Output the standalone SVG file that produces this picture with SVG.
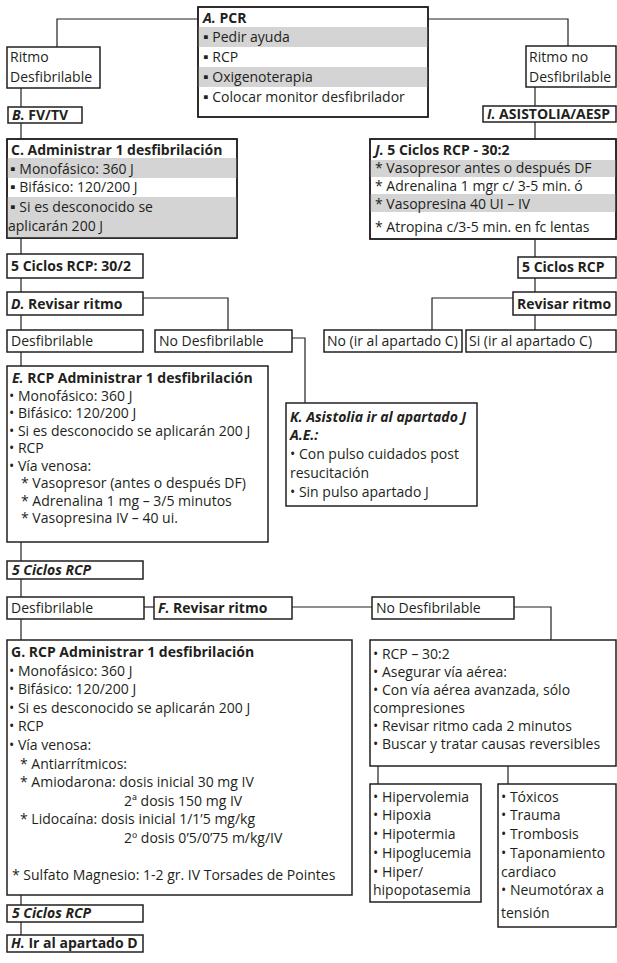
<svg xmlns="http://www.w3.org/2000/svg" width="617" height="963" viewBox="0 0 617 963">
  <style>
    .bg { fill: #ffffff; }
    .box { fill: #ffffff; stroke: #231f20; stroke-width: 1.5; }
    .frame { fill: none; stroke: #231f20; stroke-width: 1.5; }
    .band { fill: #d4d4d4; }
    .wire { fill: none; stroke: #231f20; stroke-width: 1.2; }
    text { font-family: "Open Sans", Lato, "Liberation Sans", sans-serif; font-size: 14px; fill: #231f20; }
    .b { font-weight: bold; }
    .i { font-style: italic; }
  </style>

  <rect class="bg" x="0" y="0" width="617" height="963"/>

  <!-- connectors -->
  <g id="connectors">
    <path class="wire" d="M198,19 H57 V47"/>
    <path class="wire" d="M428,19 H568 V46"/>
    <path class="wire" d="M21,88 V107"/>
    <path class="wire" d="M21,123 V139"/>
    <path class="wire" d="M21,238 V254"/>
    <path class="wire" d="M21,278 V292"/>
    <path class="wire" d="M143,298 H228 V330"/>
    <path class="wire" d="M21,315 V330"/>
    <path class="wire" d="M21,352 V366"/>
    <path class="wire" d="M292,338 H305 V403"/>
    <path class="wire" d="M535,87 V106"/>
    <path class="wire" d="M535,122 V139"/>
    <path class="wire" d="M535,239 V257"/>
    <path class="wire" d="M535,278 V292"/>
    <path class="wire" d="M513,298 H432 V330"/>
    <path class="wire" d="M535,315 V330"/>
    <path class="wire" d="M21,542 V561"/>
    <path class="wire" d="M21,579 V597"/>
    <path class="wire" d="M144,607 H154"/>
    <path class="wire" d="M292,607 H372"/>
    <path class="wire" d="M514,607 H551 V640"/>
    <path class="wire" d="M21,619 V640"/>
    <path class="wire" d="M378,766 V784"/>
    <path class="wire" d="M508,766 V784"/>
    <path class="wire" d="M21,895 V905"/>
    <path class="wire" d="M21,922 V935"/>
  </g>

  <!-- A. PCR -->
  <g id="node-a">
    <rect class="box" x="198" y="7" width="230" height="110"/>
    <rect class="band" x="198" y="27" width="230" height="20"/>
    <rect class="band" x="198" y="67" width="230" height="20"/>
    <rect class="frame" x="198" y="7" width="230" height="110"/>
    <text class="b" x="203" y="23"><tspan class="i">A.</tspan> PCR</text>
    <text x="203" y="42">▪ Pedir ayuda</text>
    <text x="203" y="62">▪ RCP</text>
    <text x="203" y="82">▪ Oxigenoterapia</text>
    <text x="203" y="102">▪ Colocar monitor desfibrilador</text>
  </g>

  <g id="node-ritmo-desf">
    <rect class="box" x="7" y="47" width="93" height="41"/>
    <text x="10" y="62">Ritmo</text>
    <text x="10" y="82">Desfibrilable</text>
  </g>

  <g id="node-ritmo-no-desf">
    <rect class="box" x="526" y="46" width="90" height="41"/>
    <text x="529" y="62">Ritmo no</text>
    <text x="529" y="82">Desfibrilable</text>
  </g>

  <g id="node-b">
    <rect class="box" x="8" y="107" width="74" height="16"/>
    <text class="b" x="12" y="120"><tspan class="i">B.</tspan> FV/TV</text>
  </g>

  <g id="node-i">
    <rect class="box" x="483" y="106" width="133" height="16"/>
    <text class="b" x="487" y="119"><tspan class="i">I.</tspan> ASISTOLIA/AESP</text>
  </g>

  <g id="node-c">
    <rect class="box" x="7" y="139" width="230" height="99"/>
    <rect class="band" x="7" y="158" width="230" height="20"/>
    <rect class="band" x="7" y="197" width="230" height="41"/>
    <rect class="frame" x="7" y="139" width="230" height="99"/>
    <text class="b" x="11" y="154.5">C. Administrar 1 desfibrilación</text>
    <text x="10" y="173.5">▪ Monofásico: 360 J</text>
    <text x="10" y="192">▪ Bifásico: 120/200 J</text>
    <text x="10" y="212">▪ Si es desconocido se</text>
    <text x="8" y="230.5">aplicarán 200 J</text>
  </g>

  <g id="node-j">
    <rect class="box" x="370" y="139" width="246" height="100"/>
    <rect class="band" x="370" y="160" width="246" height="17"/>
    <rect class="band" x="370" y="194" width="246" height="18"/>
    <rect class="frame" x="370" y="139" width="246" height="100"/>
    <text class="b" x="375" y="154.5"><tspan class="i">J.</tspan> 5 Ciclos RCP - 30:2</text>
    <text x="375" y="172.5">* Vasopresor antes o después DF</text>
    <text x="375" y="190.5">* Adrenalina 1 mgr c/ 3-5 min.  ó</text>
    <text x="375" y="208.5">* Vasopresina 40 UI – IV</text>
    <text x="375" y="232">* Atropina c/3-5 min. en fc lentas</text>
  </g>

  <g id="node-ciclos-1">
    <rect class="box" x="7" y="254" width="136" height="24"/>
    <text class="b" x="11" y="271">5 Ciclos RCP: 30/2</text>
  </g>

  <g id="node-ciclos-right">
    <rect class="box" x="518" y="257" width="98" height="21"/>
    <text class="b" x="522" y="272">5 Ciclos RCP</text>
  </g>

  <g id="node-d">
    <rect class="box" x="7" y="292" width="136" height="23"/>
    <text class="b" x="11" y="309"><tspan class="i">D.</tspan> Revisar ritmo</text>
  </g>

  <g id="node-revisar-right">
    <rect class="box" x="513" y="292" width="103" height="23"/>
    <text class="b" x="517" y="309">Revisar ritmo</text>
  </g>

  <g id="node-desf-1">
    <rect class="box" x="7" y="330" width="136" height="22"/>
    <text x="11" y="346">Desfibrilable</text>
  </g>

  <g id="node-no-desf-1">
    <rect class="box" x="155" y="330" width="137" height="22"/>
    <text x="159" y="346">No Desfibrilable</text>
  </g>

  <g id="node-no-ir-c">
    <rect class="box" x="324" y="330" width="138" height="22"/>
    <text x="327" y="346">No (ir al apartado C)</text>
  </g>

  <g id="node-si-ir-c">
    <rect class="box" x="466" y="330" width="150" height="22"/>
    <text x="469" y="346">Si (ir al apartado C)</text>
  </g>

  <g id="node-e">
    <rect class="box" x="7" y="366" width="261" height="176"/>
    <text class="b" x="12" y="383"><tspan class="i">E.</tspan> RCP Administrar 1 desfibrilación</text>
    <text x="9" y="400.5">• Monofásico: 360 J</text>
    <text x="9" y="418">• Bifásico: 120/200 J</text>
    <text x="9" y="435.5">• Si es desconocido se aplicarán 200 J</text>
    <text x="9" y="453">• RCP</text>
    <text x="9" y="470.5">• Vía venosa:</text>
    <text x="21" y="488">* Vasopresor (antes o después DF)</text>
    <text x="21" y="505.5">* Adrenalina 1 mg – 3/5 minutos</text>
    <text x="21" y="523">* Vasopresina IV – 40 ui.</text>
  </g>

  <g id="node-k">
    <rect class="box" x="286" y="403" width="191" height="103"/>
    <text class="b i" x="290" y="422">K. Asistolia ir al apartado J</text>
    <text class="b i" x="290" y="440">A.E.:</text>
    <text x="290" y="459">• Con pulso cuidados post</text>
    <text x="290" y="478">resucitación</text>
    <text x="290" y="497">• Sin pulso apartado J</text>
  </g>

  <g id="node-ciclos-2">
    <rect class="box" x="7" y="561" width="136" height="18"/>
    <text class="b i" x="12" y="575">5 Ciclos RCP</text>
  </g>

  <g id="node-desf-2">
    <rect class="box" x="7" y="597" width="137" height="22"/>
    <text x="11" y="613">Desfibrilable</text>
  </g>

  <g id="node-f">
    <rect class="box" x="154" y="597" width="138" height="22"/>
    <text class="b" x="158" y="613"><tspan class="i">F.</tspan> Revisar ritmo</text>
  </g>

  <g id="node-no-desf-2">
    <rect class="box" x="372" y="597" width="142" height="22"/>
    <text x="376" y="613">No Desfibrilable</text>
  </g>

  <g id="node-g">
    <rect class="box" x="7" y="640" width="345" height="255"/>
    <text class="b" x="11" y="657">G. RCP Administrar 1 desfibrilación</text>
    <text x="9" y="675.6">• Monofásico: 360 J</text>
    <text x="9" y="694.2">• Bifásico: 120/200 J</text>
    <text x="9" y="712.8">• Si es desconocido se aplicarán 200 J</text>
    <text x="9" y="731.4">• RCP</text>
    <text x="9" y="750">• Vía venosa:</text>
    <text x="20" y="768.6">* Antiarrítmicos:</text>
    <text x="20" y="787.2">* Amiodarona: dosis inicial 30 mg IV</text>
    <text x="124" y="805.8">2ª dosis 150 mg IV</text>
    <text x="20" y="824.4">* Lidocaína: dosis inicial 1/1’5 mg/kg</text>
    <text x="124" y="843">2º dosis 0’5/0’75 m/kg/IV</text>
    <text x="12" y="880">* Sulfato Magnesio: 1-2 gr. IV Torsades de Pointes</text>
  </g>

  <g id="node-rcp-no-desf">
    <rect class="box" x="370" y="640" width="246" height="126"/>
    <text x="373" y="659">• RCP – 30:2</text>
    <text x="373" y="677">• Asegurar vía aérea:</text>
    <text x="373" y="695">• Con vía aérea avanzada, sólo</text>
    <text x="373" y="713">compresiones</text>
    <text x="373" y="731">• Revisar ritmo cada 2 minutos</text>
    <text x="373" y="749">• Buscar y tratar causas reversibles</text>
  </g>

  <g id="node-hipo">
    <rect class="box" x="370" y="784" width="111" height="118"/>
    <text x="373" y="802">• Hipervolemia</text>
    <text x="373" y="820">• Hipoxia</text>
    <text x="373" y="839">• Hipotermia</text>
    <text x="373" y="858">• Hipoglucemia</text>
    <text x="373" y="877">• Hiper/</text>
    <text x="373" y="895">hipopotasemia</text>
  </g>

  <g id="node-toxicos">
    <rect class="box" x="498" y="784" width="118" height="143"/>
    <text x="501" y="802">• Tóxicos</text>
    <text x="501" y="820">• Trauma</text>
    <text x="501" y="839">• Trombosis</text>
    <text x="501" y="858">• Taponamiento</text>
    <text x="501" y="877">cardiaco</text>
    <text x="501" y="895">• Neumotórax a</text>
    <text x="501" y="918">tensión</text>
  </g>

  <g id="node-ciclos-3">
    <rect class="box" x="7" y="905" width="136" height="17"/>
    <text class="b i" x="12" y="918">5 Ciclos RCP</text>
  </g>

  <g id="node-h">
    <rect class="box" x="7" y="935" width="136" height="17"/>
    <text class="b" x="11" y="948"><tspan class="i">H.</tspan> Ir al apartado D</text>
  </g>
</svg>
